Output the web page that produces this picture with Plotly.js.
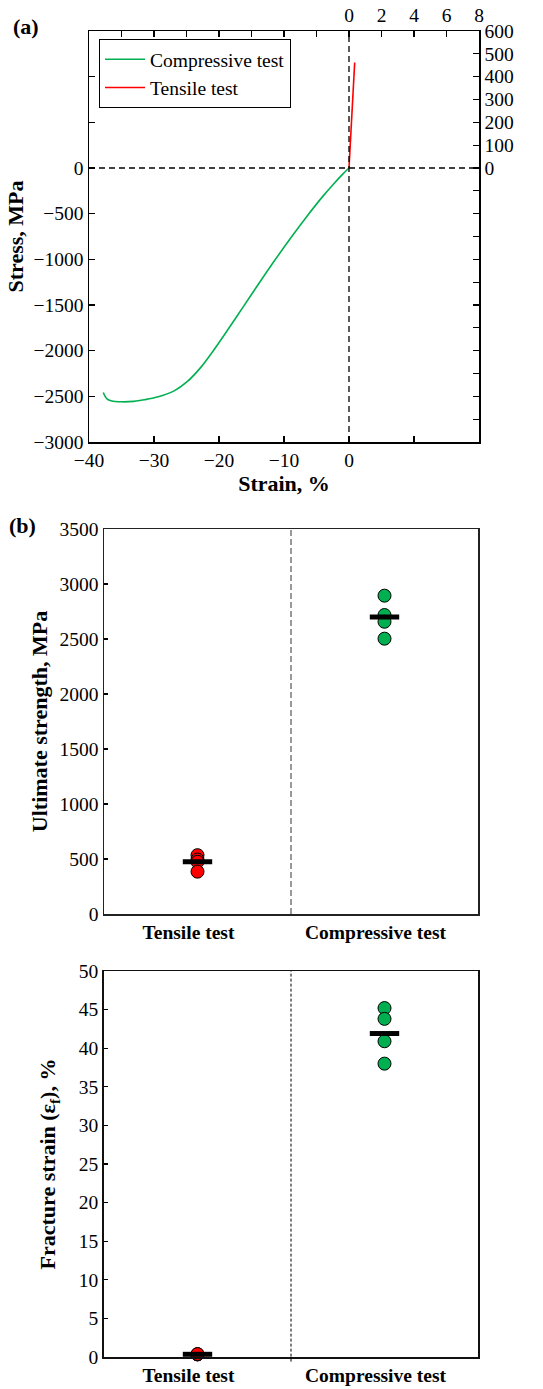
<!DOCTYPE html>
<html>
<head>
<meta charset="utf-8">
<script src="https://cdn.plot.ly/plotly-3.0.1.min.js"></script>
<style>html,body{margin:0;padding:0;background:#fff;}#chart{width:543px;height:1389px;}</style>
</head>
<body>
<div id="chart"></div>
<script>
// ---------- data ----------
const compStrain = [0, -1, -2.3, -4, -6.4, -9, -11.5, -14, -16.2, -18.7, -20.8, -22.8, -24.9, -26.9, -29.5, -31.5, -33.1, -35, -36.6, -37.2, -37.6, -37.8];
const compStress = [0, -70, -169, -308, -522, -769, -1019, -1279, -1512, -1777, -1993, -2183, -2340, -2440, -2508, -2538, -2555, -2560, -2548, -2530, -2490, -2458];
const tensStrain = [0, 0.05, 0.1, 0.15, 0.2, 0.25, 0.3, 0.35];
const tensStress = [0, 70, 140, 205, 270, 335, 400, 462];

const categories = ["Tensile test", "Compressive test"];
const tensileStrength = [535, 495, 475, 385];
const compressiveStrength = [2894, 2718, 2657, 2503];
const meanStrength = [475, 2700];
const tensileFracture = [0.33, 0.35, 0.38];
const compressiveFracture = [45.2, 43.8, 40.9, 38.0];
const meanFracture = [0.35, 41.9];

const strainTicksBottom = [-40, -30, -20, -10, 0];
const strainMinorBottom = [10, 20];
const strainTicksTop = [0, 2, 4, 6, 8];
const strainMinorTop = [-16, -14, -12, -10, -8, -6, -4, -2];
const stressTicksLeft = [-3000, -2500, -2000, -1500, -1000, -500, 0];
const stressMinorLeft = [500, 1000, 1500];
const stressTicksRight = [0, 100, 200, 300, 400, 500, 600];
const stressMinorRight = [-1200, -1100, -1000, -900, -800, -700, -600, -500, -400, -300, -200, -100];

// ---------- layout helpers ----------
const W = 543, H = 1389;
const dx = p => p / W;
const dy = p => 1 - p / H;
const FONT = "Liberation Serif";
const GREEN = "rgb(0,176,80)";
const RED = "rgb(255,0,0)";

const tf = () => ({family: FONT, size: 19.5, color: "#000"});
const tfb = () => ({family: FONT, size: 19.5, color: "#000", weight: "bold"});
const ttl = () => ({family: FONT, size: 22, color: "#000"});

function baseAxis(extra) {
  return Object.assign({
    showgrid: false, zeroline: false, showline: true, linecolor: "#000", linewidth: 1.5,
    ticks: "inside", ticklen: 6, tickwidth: 1.2, tickcolor: "#000", tickfont: tf(),
    fixedrange: true
  }, extra);
}
const minorTicks = vals => ({tickmode: "array", tickvals: vals, ticks: "inside", ticklen: 6, tickwidth: 1.2, tickcolor: "#000", showgrid: false});

const traces = [
  {x: compStrain, y: compStress, xaxis: "x", yaxis: "y", mode: "lines", name: "Compressive test",
   line: {color: GREEN, width: 1.6, shape: "spline", smoothing: 0.9}},
  {x: tensStrain, y: tensStress, xaxis: "x2", yaxis: "y2", mode: "lines", name: "Tensile test",
   line: {color: RED, width: 1.6}},

  {x: tensileStrength.map(() => categories[0]), y: tensileStrength, xaxis: "x3", yaxis: "y3", mode: "markers", showlegend: false,
   marker: {color: RED, size: 13, line: {color: "#000", width: 1}}},
  {x: compressiveStrength.map(() => categories[1]), y: compressiveStrength, xaxis: "x3", yaxis: "y3", mode: "markers", showlegend: false,
   marker: {color: GREEN, size: 13, line: {color: "#000", width: 1}}},
  {x: categories, y: meanStrength, xaxis: "x3", yaxis: "y3", mode: "markers", showlegend: false,
   marker: {symbol: "line-ew", size: 21, color: "#000", line: {color: "#000", width: 5}}},

  {x: tensileFracture.map(() => categories[0]), y: tensileFracture, xaxis: "x4", yaxis: "y4", mode: "markers", showlegend: false,
   marker: {color: RED, size: 13, line: {color: "#000", width: 1}}, cliponaxis: false},
  {x: compressiveFracture.map(() => categories[1]), y: compressiveFracture, xaxis: "x4", yaxis: "y4", mode: "markers", showlegend: false,
   marker: {color: GREEN, size: 13, line: {color: "#000", width: 1}}},
  {x: categories, y: meanFracture, xaxis: "x4", yaxis: "y4", mode: "markers", showlegend: false, cliponaxis: false,
   marker: {symbol: "line-ew", size: 21, color: "#000", line: {color: "#000", width: 5}}}
];

const layout = {
  width: W, height: H,
  margin: {l: 0, r: 0, t: 0, b: 0},
  paper_bgcolor: "#fff", plot_bgcolor: "rgba(0,0,0,0)",
  font: {family: FONT, color: "#000", size: 19.5},
  showlegend: true,
  legend: {x: dx(99), y: dy(39), xanchor: "left", yanchor: "top", bgcolor: "#fff",
           bordercolor: "#000", borderwidth: 1, font: {family: FONT, size: 19.5, color: "#000"},
           itemwidth: 40, tracegroupgap: 0},

  xaxis: baseAxis({domain: [dx(89), dx(479)], anchor: "y", range: [-40, 20],
    tickmode: "array", tickvals: strainTicksBottom, minor: minorTicks(strainMinorBottom),
    title: {text: "<b>Strain, %</b>", font: ttl(), standoff: 2}}),
  xaxis2: baseAxis({overlaying: "x", side: "top", anchor: "y", range: [-16, 8],
    tickmode: "array", tickvals: strainTicksTop, minor: minorTicks(strainMinorTop)}),
  yaxis: baseAxis({domain: [dy(442), dy(31)], anchor: "x", range: [-3000, 1500],
    tickmode: "array", tickvals: stressTicksLeft, minor: minorTicks(stressMinorLeft),
    title: {text: "<b>Stress, MPa</b>", font: ttl(), standoff: 4}}),
  yaxis2: baseAxis({overlaying: "y", side: "right", anchor: "x", range: [-1200, 600],
    tickmode: "array", tickvals: stressTicksRight, minor: minorTicks(stressMinorRight)}),

  xaxis3: baseAxis({domain: [dx(104), dx(478)], anchor: "y3", type: "category", categoryorder: "array",
    categoryarray: categories, range: [-0.5, 1.5], ticks: "", mirror: true, linecolor: "#222",
    tickfont: tfb(), ticklabelshift: -9}),
  yaxis3: baseAxis({domain: [dy(914), dy(529)], anchor: "x3", range: [0, 3500], dtick: 500, tick0: 0,
    ticklen: 4, mirror: true, linecolor: "#222",
    title: {text: "<b>Ultimate strength, MPa</b>", font: ttl(), standoff: 6}}),

  xaxis4: baseAxis({domain: [dx(104), dx(478)], anchor: "y4", type: "category", categoryorder: "array",
    categoryarray: categories, range: [-0.5, 1.5], ticks: "", mirror: true, linecolor: "#111",
    tickfont: tfb(), ticklabelshift: -9}),
  yaxis4: baseAxis({domain: [dy(1357), dy(971)], anchor: "x4", range: [0, 50], dtick: 5, tick0: 0,
    ticklen: 4, mirror: true, linecolor: "#111", linewidth: 1.8,
    title: {text: "<b>Fracture strain (ε<sub>f</sub>), %</b>", font: ttl(), standoff: 17}}),

  shapes: [
    {type: "line", xref: "x domain", yref: "y", x0: 0, x1: 1, y0: 0, y1: 0,
     line: {color: "#000", width: 1.3, dash: "6px,4px"}},
    {type: "line", xref: "x", yref: "y domain", x0: 0, x1: 0, y0: 0, y1: 1,
     line: {color: "#000", width: 1.3, dash: "6px,4px"}},
    {type: "line", xref: "x3", yref: "y3 domain", x0: 0.5, x1: 0.5, y0: 0, y1: 1,
     line: {color: "#555", width: 1.2, dash: "6px,3px"}},
    {type: "line", xref: "x4", yref: "y4 domain", x0: 0.5, x1: 0.5, y0: -0.012, y1: 1,
     line: {color: "#000", width: 1, dash: "3px,2px"}}
  ],
  annotations: [
    {text: "<b>(a)</b>", xref: "paper", yref: "paper", x: dx(26), y: dy(26), xanchor: "center", yanchor: "middle",
     showarrow: false, font: {family: FONT, size: 22, color: "#000"}},
    {text: "<b>(b)</b>", xref: "paper", yref: "paper", x: dx(22), y: dy(525), xanchor: "center", yanchor: "middle",
     showarrow: false, font: {family: FONT, size: 22, color: "#000"}}
  ]
};

Plotly.newPlot("chart", traces, layout, {displayModeBar: false, staticPlot: true});
</script>
</body>
</html>
